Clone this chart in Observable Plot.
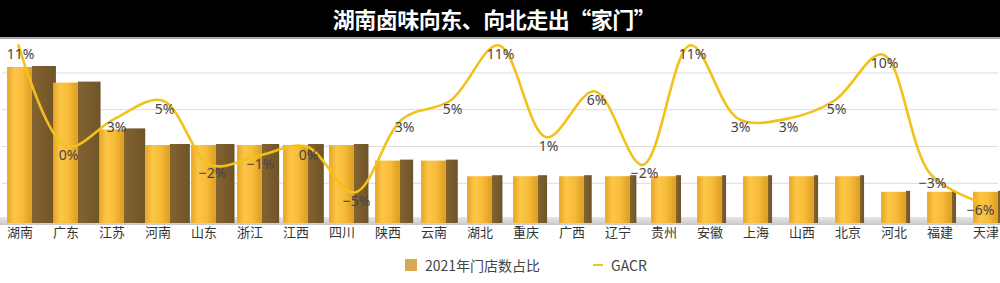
<!DOCTYPE html>
<html>
<head>
<meta charset="utf-8">
<script src="https://cdn.jsdelivr.net/npm/d3@7"></script>
<script src="https://cdn.jsdelivr.net/npm/@observablehq/plot@0.6"></script>
<style>
  body { margin: 0; background: #fff; font-family: "Noto Sans CJK SC", "Noto Sans", sans-serif; }
  #wrap { position: relative; width: 1000px; height: 283px; overflow: hidden; background: #fff; }
  #title { position: absolute; left: 0; top: 0; width: 1000px; height: 37px; background: #000;
           border-bottom: 2px solid #a8a8a8; color: #fff; font-weight: bold; font-size: 22px;
           line-height: 37px; text-align: center; letter-spacing: -0.5px; }
  #title span { position: relative; left: -6px; }
  .layer { position: absolute; left: 0; top: 0; }
  #floor { position: absolute; left: 0; top: 217px; width: 1000px; height: 8px;
           background: linear-gradient(#e6e6e6, #c9c9c9); }
  #legend { position: absolute; top: 255px; left: 405px; display: flex; align-items: center;
            font-size: 14px; color: #444; font-family: "Noto Sans CJK SC", sans-serif; }
  .sw { width: 12px; height: 12px; background: #d8a852; margin-right: 8px; }
  .ln { width: 10px; height: 2px; background: #f2c21a; margin-left: 53px; margin-right: 8px; }
</style>
</head>
<body>
<div id="wrap">
  <div id="grid" class="layer"></div>
  <div id="floor"></div>
  <div id="bars" class="layer"></div>
  <div id="line" class="layer"></div>
  <div id="title"><span>湖南卤味向东、向北走出“家门”</span></div>
  <div id="legend"><div class="sw"></div><span>2021年门店数占比</span><div class="ln"></div><span>GACR</span></div>
</div>
<script>
// ---- data ----
const provinces = ["湖南","广东","江苏","河南","山东","浙江","江西","四川","陕西","云南","湖北","重庆","广西","辽宁","贵州","安徽","上海","山西","北京","河北","福建","天津"];
const storeShare = [10,9,6,5,5,5,5,5,4,4,3,3,3,3,3,3,3,3,3,2,2,2];
const gacr = [11,0,3,5,-2,-1,0,-5,3,5,11,1,6,-2,11,3,3,5,10,-3,-6];
const gacrTicks = [-8,-4,0,4,8];

const W = 1000, H = 245;
const barData = provinces.map((p, i) => ({i, p, v: storeShare[i]}));
const halfW = 0.27;
const sideW = i => Math.max(0.09, (24 - 1.35 * i) / 46);

// GACR scales shared by grid + line layers
const gacrX = {type: "point", domain: d3.range(gacr.length), padding: 0, axis: null};
const gacrY = {domain: [-8, 12], axis: null};

// grid layer
const grid = Plot.plot({
  width: W, height: H, marginLeft: 16, marginRight: 20, marginTop: 35.6, marginBottom: 25.4,
  x: gacrX, y: gacrY,
  marks: [Plot.ruleY(gacrTicks, {stroke: "#dcdcdc", strokeWidth: 1, x1: 0, x2: 20, insetLeft: -16, insetRight: -20})]
});
document.getElementById("grid").append(grid);

// bar layer
const bars = Plot.plot({
  width: W, height: H, marginLeft: 0, marginRight: 0, marginTop: 35.8, marginBottom: 22,
  style: {background: "transparent", fontFamily: "'Noto Sans CJK SC', sans-serif"},
  x: {domain: [-19.5 / 46, 980.5 / 46], axis: null},
  y: {domain: [0, 12], axis: null},
  marks: [
    Plot.rect(barData, {x1: d => d.i + halfW, x2: d => d.i + halfW + sideW(d.i), y1: 0, y2: "v",
      fill: "url(#sideGrad)", insetTop: -1}),
    Plot.rect(barData, {x1: d => d.i - halfW, x2: d => d.i + halfW, y1: 0, y2: "v", fill: "url(#frontGrad)"}),
    Plot.axisX(d3.range(provinces.length), {tickFormat: i => provinces[i], tickSize: 0, tickPadding: 4,
      fontSize: 13, fill: "#333"})
  ]
});
const defs = d3.select(bars).insert("defs", ":first-child");
const fg = defs.append("linearGradient").attr("id", "frontGrad").attr("x1", 0).attr("x2", 1).attr("y1", 0).attr("y2", 0);
[["0%", "#e9a526"], ["30%", "#fbc647"], ["60%", "#f8bd38"], ["100%", "#dc9c22"]].forEach(([o, c]) =>
  fg.append("stop").attr("offset", o).attr("stop-color", c));
const sg = defs.append("linearGradient").attr("id", "sideGrad").attr("x1", 0).attr("x2", 1).attr("y1", 0).attr("y2", 0);
[["0%", "#846330"], ["100%", "#6f5428"]].forEach(([o, c]) =>
  sg.append("stop").attr("offset", o).attr("stop-color", c));
document.getElementById("bars").append(bars);

// line layer
const fmt = v => (v < 0 ? "−" + Math.abs(v) : String(v)) + "%";
const line = Plot.plot({
  width: W, height: H, marginLeft: 16, marginRight: 20, marginTop: 35.6, marginBottom: 25.4,
  style: {background: "transparent"},
  x: gacrX, y: gacrY,
  marks: [
    Plot.line(gacr, {x: (d, i) => i, y: d => d, curve: "catmull-rom", stroke: "#f3c11b", strokeWidth: 2.6}),
    Plot.text(gacr, {x: (d, i) => i, y: d => d, text: fmt, dy: 9, dx: 2, fontSize: 14, fill: "#444",
      fontFamily: "'Noto Sans', sans-serif"})
  ]
});
document.getElementById("line").append(line);
</script>
</body>
</html>
